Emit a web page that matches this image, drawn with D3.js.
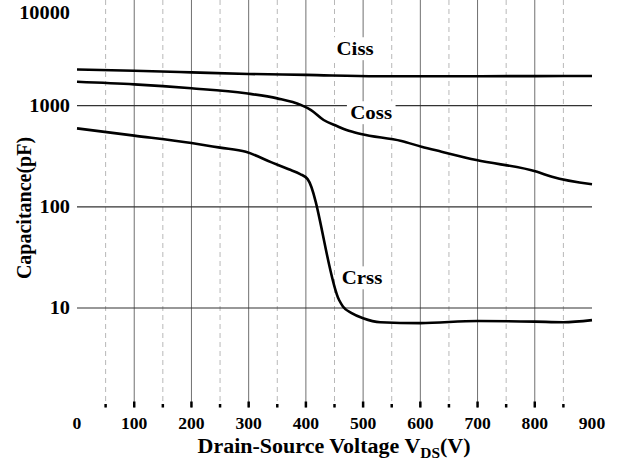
<!DOCTYPE html>
<html>
<head>
<meta charset="utf-8">
<script src="https://cdn.jsdelivr.net/npm/d3@7"></script>
<style>
body { margin:0; background:#fff; }
text { font-family:"Liberation Serif", "Times New Roman", serif; font-weight:bold; fill:#000; }
</style>
</head>
<body>
<svg id="chart" width="624" height="467"></svg>
<script>
var vdsCiss = [0, 100, 200, 300, 400, 525, 600, 700, 800, 900];
var ciss    = [2460, 2380, 2290, 2200, 2150, 2075, 2080, 2080, 2085, 2090];

var vdsCoss = [0, 100, 200, 295, 350, 391, 409, 431, 454, 471, 496, 567, 602, 637, 698, 804, 830, 900];
var coss    = [1815, 1700, 1540, 1360, 1200, 1020, 905, 722, 630, 575, 525, 448, 393, 351, 290, 222, 198, 167];

var vdsCrss = [0, 100, 200, 250, 295, 340, 370, 390, 403, 458, 465, 480, 500, 530, 600, 700, 800, 850, 900];
var crss    = [597, 506, 427, 385, 350, 275, 235, 211, 188, 12.0, 10.3, 8.9, 7.9, 7.2, 7.05, 7.4, 7.3, 7.2, 7.55];

var xTicks = [0, 100, 200, 300, 400, 500, 600, 700, 800, 900];
var xMinor = [50, 150, 250, 350, 450, 550, 650, 750, 850];
var yTicks = [10, 100, 1000, 10000];

var seriesLabels = [
  {name: "Ciss", v: 486, c: 4190},
  {name: "Coss", v: 514, c: 866},
  {name: "Crss", v: 498, c: 20.2}
];

var svg = d3.select("#chart");

var x = d3.scaleLinear().domain([0, 900]).range([77, 592]);
var y = d3.scaleLog().domain([1, 10, 1000, 10000]).range([407.5, 308, 105.7, 13]);

var left = x(0), right = x(900), top = y(10000), bottom = y(1);

// horizontally stretched text, like the scanned original
var stretch = function(sel, px, py){
  return sel.attr("transform", function(d, i){
    return "translate(" + px(d, i) + "," + py(d, i) + ") scale(1.1,1)";
  });
};

// grid
svg.selectAll(".minor").data(xMinor).enter().append("line")
  .attr("x1", d => x(d)).attr("x2", d => x(d))
  .attr("y1", top).attr("y2", bottom)
  .attr("stroke", "#b8b8b8").attr("stroke-width", 1)
  .attr("stroke-dasharray", "5,4");

svg.selectAll(".major").data(xTicks.slice(1, -1)).enter().append("line")
  .attr("x1", d => x(d)).attr("x2", d => x(d))
  .attr("y1", top).attr("y2", bottom)
  .attr("stroke", "#707070").attr("stroke-width", 1);

svg.selectAll(".hgrid").data(yTicks.slice(0, -1)).enter().append("line")
  .attr("x1", left).attr("x2", right)
  .attr("y1", d => y(d)).attr("y2", d => y(d))
  .attr("stroke", "#333").attr("stroke-width", 1.2);

// curves
var line = d3.line()
  .x(d => x(d[0]))
  .y(d => y(d[1]))
  .curve(d3.curveMonotoneX);

[[vdsCiss, ciss], [vdsCoss, coss], [vdsCrss, crss]].forEach(function(s){
  svg.append("path")
    .datum(d3.zip(s[0], s[1]))
    .attr("d", line)
    .attr("fill", "none")
    .attr("stroke", "#000")
    .attr("stroke-width", 2.6)
    .attr("stroke-linejoin", "round");
});

// series labels with white boxes
seriesLabels.forEach(function(l){
  var g = svg.append("g")
    .attr("transform", "translate(" + x(l.v) + "," + (y(l.c) + 3) + ") scale(1.1,1)");
  var t = g.append("text")
    .attr("text-anchor", "middle")
    .attr("dominant-baseline", "middle")
    .style("font-size", "19px")
    .text(l.name);
  var b = t.node().getBBox();
  g.insert("rect", "text")
    .attr("x", b.x - 3).attr("y", b.y - 1)
    .attr("width", b.width + 6).attr("height", b.height + 2)
    .attr("fill", "#fff");
});

// frame
svg.append("rect")
  .attr("x", left).attr("y", top)
  .attr("width", right - left).attr("height", bottom - top)
  .attr("fill", "none").attr("stroke", "#000").attr("stroke-width", 3);

// bottom ticks (inward)
svg.selectAll(".tk").data(xTicks.slice(1, -1)).enter().append("line")
  .attr("x1", d => x(d)).attr("x2", d => x(d))
  .attr("y1", bottom).attr("y2", bottom - 6)
  .attr("stroke", "#000").attr("stroke-width", 2.5);

svg.selectAll(".tkm").data(xMinor).enter().append("line")
  .attr("x1", d => x(d)).attr("x2", d => x(d))
  .attr("y1", bottom).attr("y2", bottom - 3.5)
  .attr("stroke", "#000").attr("stroke-width", 2.5);

// tick labels
stretch(svg.selectAll(".xl").data(xTicks).enter().append("text"), d => x(d), () => 429)
  .attr("text-anchor", "middle")
  .style("font-size", "16px")
  .text(d => d);

stretch(svg.selectAll(".yl").data(yTicks).enter().append("text"), () => 70, d => y(d) + 6)
  .attr("text-anchor", "end")
  .style("font-size", "18.5px")
  .text(d => d);

// axis titles
var xt = svg.append("text")
  .attr("transform", "translate(334,453) scale(1.1,1)")
  .attr("text-anchor", "middle")
  .style("font-size", "20px");
xt.append("tspan").text("Drain-Source Voltage V");
xt.append("tspan").attr("dy", 5).style("font-size", "14px").text("DS");
xt.append("tspan").attr("dy", -5).text("(V)");

svg.append("text")
  .attr("transform", "translate(31,208) rotate(-90) scale(1,1.1)")
  .attr("text-anchor", "middle")
  .style("font-size", "20px")
  .text("Capacitance(pF)");
</script>
</body>
</html>
